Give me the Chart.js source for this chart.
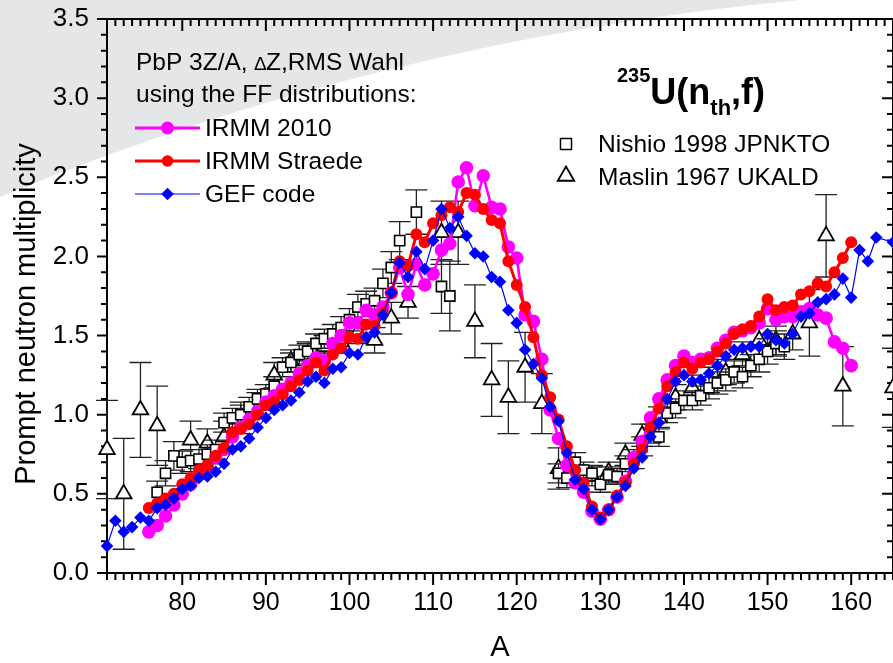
<!DOCTYPE html>
<html>
<head>
<meta charset="utf-8">
<title>Prompt neutron multiplicity - 235U(nth,f)</title>
<script src="https://cdn.jsdelivr.net/npm/chart.js@4.4.1/dist/chart.umd.min.js"></script>
<style>
  html, body { margin: 0; padding: 0; background: #fff; }
  #nu_plot { display: block; }
</style>
</head>
<body>
<canvas id="nu_plot" width="893" height="663"></canvas>
<script>
// fragment mass number, one entry per A (71..165)
const massA = [
   71,  72,  73,  74,  75,  76,  77,  78,  79,  80,
   81,  82,  83,  84,  85,  86,  87,  88,  89,  90,
   91,  92,  93,  94,  95,  96,  97,  98,  99, 100,
  101, 102, 103, 104, 105, 106, 107, 108, 109, 110,
  111, 112, 113, 114, 115, 116, 117, 118, 119, 120,
  121, 122, 123, 124, 125, 126, 127, 128, 129, 130,
  131, 132, 133, 134, 135, 136, 137, 138, 139, 140,
  141, 142, 143, 144, 145, 146, 147, 148, 149, 150,
  151, 152, 153, 154, 155, 156, 157, 158, 159, 160,
  161, 162, 163, 164, 165
];

// PbP with IRMM 2010 FF distribution
const irmm2010Nu = [
  null, null, null, null, null, 0.26, 0.30, 0.36, 0.43, 0.50,
  0.56, 0.62, 0.67, 0.73, 0.78, 0.86, 0.92, 0.97, 1.02, 1.08,
  1.12, 1.16, 1.20, 1.26, 1.31, 1.36, 1.34, 1.45, 1.50, 1.58,
  1.58, 1.66, 1.63, 1.68, 1.77, 1.93, 1.76, 1.95, 1.82, 1.89,
  2.04, 2.08, 2.47, 2.56, 2.32, 2.51, 2.31, 2.30, 2.06, 1.99,
  1.63, 1.59, 1.35, 1.03, 0.85, 0.68, 0.57, 0.51, 0.39, 0.34,
  0.40, 0.48, 0.58, 0.73, 0.83, 0.98, 1.10, 1.22, 1.31, 1.37,
  1.33, 1.35, 1.36, 1.42, 1.47, 1.52, 1.53, 1.55, 1.58, 1.67,
  1.60, 1.62, 1.62, 1.65, 1.67, 1.63, 1.61, 1.46, 1.42, 1.31,
  null, null, null, null, null
];

// PbP with IRMM Straede FF distribution
const straedeNu = [
  null, null, null, null, null, 0.41, 0.44, 0.47, 0.50, 0.56,
  0.60, 0.65, 0.68, 0.74, 0.79, 0.89, 0.91, 0.94, 1.00, 1.06,
  1.08, 1.13, 1.18, 1.22, 1.28, 1.33, 1.28, 1.38, 1.42, 1.49,
  1.48, 1.57, 1.56, 1.64, 1.77, 1.97, 1.94, 2.14, 2.09, 2.21,
  2.26, 2.31, 2.28, 2.40, 2.39, 2.30, 2.23, 2.21, 1.97, 1.82,
  1.68, 1.49, 1.25, 1.11, 0.97, 0.80, 0.65, 0.57, 0.42, 0.35,
  0.40, 0.49, 0.57, 0.69, 0.78, 0.92, 1.04, 1.18, 1.27, 1.33,
  1.29, 1.33, 1.35, 1.40, 1.45, 1.51, 1.54, 1.56, 1.62, 1.73,
  1.66, 1.68, 1.69, 1.76, 1.78, 1.83, 1.81, 1.90, 1.99, 2.09,
  null, null, null, null, null
];

// PbP with GEF code FF distribution
const gefNu = [
  0.17, 0.33, 0.26, 0.29, 0.35, 0.33, 0.41, 0.43, 0.47, 0.53,
  0.55, 0.60, 0.61, 0.64, 0.69, 0.78, 0.80, 0.85, 0.92, 0.98,
  1.03, 1.06, 1.09, 1.14, 1.21, 1.24, 1.20, 1.29, 1.30, 1.39,
  1.38, 1.49, 1.52, 1.63, 1.77, 1.96, 1.87, 2.03, 1.92, 2.10,
  2.30, 2.18, 2.25, 2.13, 2.02, 2.00, 1.87, 1.84, 1.66, 1.58,
  1.41, 1.32, 1.23, 1.05, 0.96, 0.76, 0.59, 0.53, 0.40, 0.34,
  0.40, 0.48, 0.55, 0.66, 0.73, 0.86, 0.95, 1.10, 1.21, 1.25,
  1.21, 1.22, 1.26, 1.31, 1.37, 1.41, 1.42, 1.43, 1.43, 1.51,
  1.47, 1.45, 1.51, 1.62, 1.64, 1.71, 1.73, 1.76, 1.86, 1.74,
  2.04, 1.97, 2.12, null, 2.09
];

// EXFOR: Nishio 1998 (JPNKTO)
const nishioNu = [
  null, null, null, null, null, null, 0.51, 0.63, 0.74, 0.70,
  0.71, 0.72, 0.75, 0.78, 0.95, 0.98, 1.00, 1.05, 1.10, 1.13,
  1.18, 1.30, 1.33, 1.38, 1.40, 1.45, 1.48, 1.51, 1.55, 1.60,
  1.68, 1.70, 1.72, 1.83, 1.93, 2.10, null, 2.28, null, null,
  1.81, 1.75, null, null, null, null, null, null, null, null,
  null, null, null, null, 0.63, 0.60, 0.70, 0.65, 0.63, 0.56,
  0.62, 0.61, 0.69, 0.72, 0.80, 0.88, 0.86, 1.01, 1.04, 1.09,
  1.09, 1.12, 1.17, 1.20, 1.22, 1.27, 1.24, 1.31, 1.35, 1.40,
  1.45, 1.43, null, null, null, null, null, null, null, null,
  null, null, null, null, null
];
const nishioErr = [
  null, null, null, null, null, null, 0.07, 0.08, 0.09, 0.07,
  0.07, 0.06, 0.06, 0.06, 0.06, 0.06, 0.06, 0.06, 0.06, 0.06,
  0.06, 0.06, 0.06, 0.06, 0.06, 0.06, 0.06, 0.06, 0.07, 0.07,
  0.08, 0.08, 0.08, 0.09, 0.10, 0.12, null, 0.14, null, null,
  0.17, 0.22, null, null, null, null, null, null, null, null,
  null, null, null, null, 0.06, 0.06, 0.06, 0.05, 0.05, 0.05,
  0.05, 0.05, 0.05, 0.06, 0.06, 0.06, 0.06, 0.06, 0.06, 0.06,
  0.06, 0.06, 0.07, 0.07, 0.07, 0.07, 0.07, 0.07, 0.08, 0.08,
  0.08, 0.08, null, null, null, null, null, null, null, null,
  null, null, null, null, null
];

// EXFOR: Maslin 1967 (UKALD)
const maslinNu = [
  0.78, null, 0.50, null, 1.03, null, 0.93, null, null, null,
  0.84, null, 0.82, null, 0.86, null, 0.98, null, 1.06, null,
  1.25, null, 1.34, null, 1.38, null, 1.43, null, 1.46, null,
  1.52, null, 1.47, null, 1.61, null, 1.71, null, null, null,
  2.15, null, 2.15, null, 1.59, null, 1.22, null, 1.11, null,
  1.30, null, 1.07, null, 0.66, null, null, null, 0.61, null,
  0.64, null, 0.75, null, 0.87, null, 0.98, null, 1.11, null,
  1.17, null, 1.22, null, 1.27, null, 1.38, null, 1.47, null,
  1.47, null, 1.51, null, 1.58, null, 2.13, null, 1.18, null,
  null, null, null, null, 1.17
];
const maslinErr = [
  0.31, null, 0.35, null, 0.30, null, 0.25, null, null, null,
  0.12, null, 0.09, null, 0.10, null, 0.10, null, 0.08, null,
  0.08, null, 0.07, null, 0.07, null, 0.07, null, 0.07, null,
  0.07, null, 0.08, null, 0.10, null, 0.10, null, null, null,
  0.20, null, 0.20, null, 0.23, null, 0.23, null, 0.23, null,
  0.22, null, 0.19, null, 0.13, null, null, null, 0.06, null,
  0.06, null, 0.07, null, 0.07, null, 0.07, null, 0.08, null,
  0.08, null, 0.08, null, 0.08, null, 0.08, null, 0.09, null,
  0.09, null, 0.10, null, 0.21, null, 0.26, null, 0.25, null,
  null, null, null, null, 0.25
];

const xTickValues = [80, 90, 100, 110, 120, 130, 140, 150, 160];
const yTickValues = [0, 0.5, 1.0, 1.5, 2.0, 2.5, 3.0, 3.5];

const FONT = '"Liberation Sans", Arial, Helvetica, sans-serif';

function toPoints(values) {
  const pts = [];
  values.forEach((v, i) => { if (v !== null) pts.push({ x: massA[i], y: v }); });
  return pts;
}
function errorsFor(values, errs) {
  const out = [];
  values.forEach((v, i) => { if (v !== null) out.push(errs[i]); });
  return out;
}

// keep the plot box fixed: no extra room for edge labels
function noEdgePadding(scale) {
  scale.paddingLeft = 0;
  scale.paddingRight = 0;
  scale.paddingTop = 0;
  scale.paddingBottom = 0;
}

// light grey swoosh behind the top left corner
const backdrop = {
  id: 'backdrop',
  beforeDraw(chart) {
    const ctx = chart.ctx;
    ctx.save();
    ctx.fillStyle = '#ffffff';
    ctx.fillRect(0, 0, chart.width, chart.height);
    ctx.fillStyle = '#e5e6e8';
    ctx.beginPath();
    ctx.moveTo(0, 0);
    ctx.lineTo(0, 197);
    ctx.quadraticCurveTo(380, 40, 800, 0);
    ctx.closePath();
    ctx.fill();
    ctx.restore();
  }
};

// box frame with major + minor ticks on all four sides
const frameTicks = {
  id: 'frameTicks',
  beforeDatasetsDraw(chart) {
    const ctx = chart.ctx;
    const { left, right, top, bottom } = chart.chartArea;
    const xs = chart.scales.x, ys = chart.scales.y;
    ctx.save();
    ctx.strokeStyle = '#000';
    ctx.lineWidth = 2;
    ctx.strokeRect(left, top, right - left, bottom - top);
    ctx.beginPath();
    for (let a = 71; a <= 165; a++) {
      const px = xs.getPixelForValue(a);
      const len = a % 10 === 0 ? 12 : 7;
      ctx.moveTo(px, bottom); ctx.lineTo(px, bottom + len);
      ctx.moveTo(px, top); ctx.lineTo(px, top + len);
    }
    for (let k = 0; k <= 35; k++) {
      const py = ys.getPixelForValue(k / 10);
      const major = k % 5 === 0;
      ctx.moveTo(left - (major ? 10 : 6), py); ctx.lineTo(left, py);
      ctx.moveTo(right - (major ? 11 : 6), py); ctx.lineTo(right, py);
    }
    ctx.stroke();
    ctx.restore();
  }
};

// vertical error bars with caps, drawn under their own markers
const errorBars = {
  id: 'errorBars',
  beforeDatasetDraw(chart, args) {
    const ds = chart.data.datasets[args.index];
    if (!ds.errorBars) return;
    const ctx = chart.ctx, ys = chart.scales.y;
    ctx.save();
    ctx.strokeStyle = '#222';
    ctx.lineWidth = 1.3;
    ctx.beginPath();
    args.meta.data.forEach((pt, i) => {
      const e = ds.errorBars[i];
      if (!e) return;
      const v = ds.data[i].y;
      const yHi = ys.getPixelForValue(v + e), yLo = ys.getPixelForValue(v - e);
      ctx.moveTo(pt.x, yHi); ctx.lineTo(pt.x, yLo);
      ctx.moveTo(pt.x - 11, yHi); ctx.lineTo(pt.x + 11, yHi);
      ctx.moveTo(pt.x - 11, yLo); ctx.lineTo(pt.x + 11, yLo);
    });
    ctx.stroke();
    ctx.restore();
  }
};

function marker(ctx, style, r, x, y, fill, stroke, bw) {
  ctx.save();
  ctx.fillStyle = fill;
  ctx.strokeStyle = stroke;
  ctx.lineWidth = bw;
  Chart.helpers.drawPoint(ctx, { pointStyle: style, radius: r, rotation: 0, borderWidth: bw }, x, y);
  ctx.restore();
}

function textRun(ctx, parts, x, y) {
  parts.forEach(p => {
    ctx.font = p.font;
    ctx.fillText(p.text, x, y + (p.dy || 0));
    x += ctx.measureText(p.text).width;
  });
}

// captions, hand-made legends and axis titles
const annotations = {
  id: 'annotations',
  afterDraw(chart) {
    const ctx = chart.ctx;
    ctx.save();
    ctx.fillStyle = '#000';
    ctx.textAlign = 'left';
    ctx.textBaseline = 'alphabetic';

    const fText = '24.5px ' + FONT;
    textRun(ctx, [
      { text: 'PbP 3Z/A, ', font: fText },
      { text: '\u2206', font: '19px ' + FONT },
      { text: 'Z,RMS Wahl', font: fText }
    ], 136, 70);
    ctx.font = fText;
    ctx.fillText('using the FF distributions:', 136, 102);

    const rows = [
      { label: 'IRMM 2010', color: '#ff00ff', lw: 3, style: 'circle', r: 6.5, y: 128, base: 135.5 },
      { label: 'IRMM Straede', color: '#ff0000', lw: 3, style: 'circle', r: 5.8, y: 161, base: 168.5 },
      { label: 'GEF code', color: '#0000ff', lw: 1.2, style: 'rectRot', r: 6.3, y: 194, base: 202 }
    ];
    rows.forEach(rw => {
      ctx.strokeStyle = rw.color;
      ctx.lineWidth = rw.lw;
      ctx.beginPath();
      ctx.moveTo(135, rw.y); ctx.lineTo(200, rw.y);
      ctx.stroke();
      marker(ctx, rw.style, rw.r, 167.5, rw.y, rw.color, rw.color, 0);
      ctx.fillStyle = '#000';
      ctx.font = fText;
      ctx.fillText(rw.label, 205, rw.base);
    });

    // reaction label 235U(n_th,f)
    const big = 'bold 36px ' + FONT;
    textRun(ctx, [
      { text: '235', font: 'bold 20px ' + FONT, dy: -21.5 },
      { text: 'U(n', font: big },
      { text: 'th', font: 'bold 22px ' + FONT, dy: 11.5 },
      { text: ',f)', font: big }
    ], 617, 103.5);

    marker(ctx, 'rect', 7.8, 566, 144, '#fff', '#000', 1.5);
    marker(ctx, 'triangle', 9.5, 566, 176, '#fff', '#000', 1.8);
    ctx.fillStyle = '#000';
    ctx.font = fText;
    ctx.fillText('Nishio 1998 JPNKTO', 598, 152);
    ctx.fillText('Maslin 1967 UKALD', 598, 184.5);

    // axis titles
    ctx.font = '29px ' + FONT;
    ctx.textAlign = 'center';
    ctx.fillText('A', 500, 656);
    ctx.translate(35, 314);
    ctx.rotate(-Math.PI / 2);
    ctx.fillText('Prompt neutron multiplicity', 0, 0);
    ctx.restore();
  }
};

const ctx = document.getElementById('nu_plot').getContext('2d');
const nuChart = new Chart(ctx, {
  type: 'line',
  data: {
    datasets: [
      {
        label: 'GEF code',
        data: toPoints(gefNu),
        borderColor: '#0000ff',
        backgroundColor: '#0000ff',
        borderWidth: 1.2,
        pointStyle: 'rectRot',
        pointRadius: 6.3,
        pointBorderWidth: 0,
        order: 1,
        clip: false
      },
      {
        label: 'IRMM Straede',
        data: toPoints(straedeNu),
        borderColor: '#ff0000',
        backgroundColor: '#ff0000',
        borderWidth: 3,
        pointStyle: 'circle',
        pointRadius: 6,
        pointBorderWidth: 0,
        order: 2,
        clip: false
      },
      {
        label: 'IRMM 2010',
        data: toPoints(irmm2010Nu),
        borderColor: '#ff00ff',
        backgroundColor: '#ff00ff',
        borderWidth: 2.6,
        pointStyle: 'circle',
        pointRadius: 6.8,
        pointBorderWidth: 0,
        order: 3,
        clip: false
      },
      {
        label: 'Nishio 1998 JPNKTO',
        data: toPoints(nishioNu),
        errorBars: errorsFor(nishioNu, nishioErr),
        showLine: false,
        pointStyle: 'rect',
        pointRadius: 7.2,
        pointBackgroundColor: '#fff',
        pointBorderColor: '#000',
        pointBorderWidth: 1.6,
        order: 4,
        clip: false
      },
      {
        label: 'Maslin 1967 UKALD',
        data: toPoints(maslinNu),
        errorBars: errorsFor(maslinNu, maslinErr),
        showLine: false,
        pointStyle: 'triangle',
        pointRadius: 9,
        pointBackgroundColor: '#fff',
        pointBorderColor: '#000',
        pointBorderWidth: 1.8,
        order: 5,
        clip: false
      }
    ]
  },
  plugins: [backdrop, frameTicks, errorBars, annotations],
  options: {
    responsive: false,
    animation: false,
    devicePixelRatio: 1,
    events: [],
    layout: { autoPadding: false, padding: { top: 19, right: 0, bottom: 0, left: 0 } },
    elements: { line: { tension: 0 } },
    plugins: {
      legend: { display: false },
      tooltip: { enabled: false }
    },
    scales: {
      x: {
        type: 'linear',
        min: 71,
        max: 165,
        afterBuildTicks(scale) { scale.ticks = xTickValues.map(v => ({ value: v })); },
        afterFit(scale) { scale.height = 90; noEdgePadding(scale); },
        grid: { display: false, drawTicks: false },
        border: { display: false },
        ticks: {
          autoSkip: false,
          maxRotation: 0,
          padding: 15,
          color: '#000',
          font: { family: FONT, size: 25 }
        }
      },
      y: {
        type: 'linear',
        min: 0,
        max: 3.5,
        afterBuildTicks(scale) { scale.ticks = yTickValues.map(v => ({ value: v })); },
        afterFit(scale) { scale.width = 107; noEdgePadding(scale); },
        grid: { display: false, drawTicks: false },
        border: { display: false },
        ticks: {
          padding: 18,
          color: '#000',
          font: { family: FONT, size: 26 },
          callback: v => v.toFixed(1)
        }
      }
    }
  }
});
</script>
</body>
</html>
